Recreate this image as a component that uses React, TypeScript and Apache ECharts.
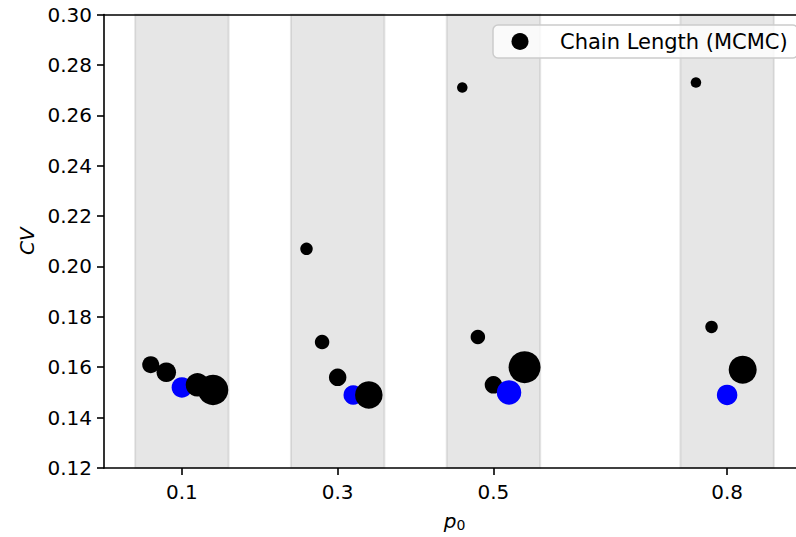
import React, { useEffect, useRef } from "react";
import * as echarts from "echarts";

// p0 values with a shaded band around each
const p0Ticks = [0.1, 0.3, 0.5, 0.8];

// CV of each chain length setting, dodged around its p0
const xP01 = [0.06, 0.08, 0.1, 0.12, 0.14];
const cvP01 = [0.161, 0.158, 0.152, 0.153, 0.151];
const dotP01 = [17, 19.5, 20.5, 23.5, 30.5];

const xP03 = [0.26, 0.28, 0.3, 0.32, 0.34];
const cvP03 = [0.207, 0.17, 0.156, 0.149, 0.149];
const dotP03 = [12.5, 14.5, 17.5, 19.5, 27.5];

const xP05 = [0.46, 0.48, 0.5, 0.52, 0.54];
const cvP05 = [0.271, 0.172, 0.153, 0.15, 0.16];
const dotP05 = [10.5, 14.5, 17.5, 24.5, 32];

const xP08 = [0.76, 0.78, 0.8, 0.82];
const cvP08 = [0.273, 0.176, 0.149, 0.159];
const dotP08 = [10.5, 12.5, 20.5, 28];

// index of the chosen chain length in each group (drawn blue)
const chosenIndex = [2, 3, 3, 2];

const FONT = "DejaVu Sans";
const BAND_HALF = 0.06;

export default function App() {
  const ref = useRef<HTMLDivElement>(null);

  useEffect(() => {
    if (!ref.current) return;
    const chart = echarts.init(ref.current, undefined, { renderer: "svg" });

    const groups = [
      { x: xP01, cv: cvP01, dot: dotP01 },
      { x: xP03, cv: cvP03, dot: dotP03 },
      { x: xP05, cv: cvP05, dot: dotP05 },
      { x: xP08, cv: cvP08, dot: dotP08 },
    ];
    const points: any[] = [];
    groups.forEach((g, gi) => {
      g.x.forEach((xv, i) => {
        points.push({
          value: [xv, g.cv[i], g.dot[i]],
          itemStyle: i === chosenIndex[gi] ? { color: "#0000ff" } : undefined,
        });
      });
    });

    const bands = p0Ticks.map((p) => [
      { xAxis: p - BAND_HALF },
      { xAxis: p + BAND_HALF },
    ]);

    const axisLine = { show: true, lineStyle: { color: "#000", width: 1.6 } };

    chart.setOption({
      animation: false,
      backgroundColor: "#ffffff",
      textStyle: { fontFamily: FONT },
      // the plot area runs a little past the visible right edge
      grid: { left: 104, right: 0, top: 14.5, bottom: 68, containLabel: false },
      legend: {
        data: ["Chain Length (MCMC)"],
        left: 493,
        top: 25,
        orient: "vertical",
        icon: "circle",
        itemWidth: 17,
        itemHeight: 17,
        padding: [6, 10, 6, 18.5],
        backgroundColor: "rgba(255,255,255,0.8)",
        borderColor: "#cccccc",
        borderWidth: 1.5,
        borderRadius: 5,
        formatter: (name: string) => `{t|${name}}`,
        textStyle: {
          rich: {
            t: {
              fontFamily: FONT,
              fontSize: 21,
              color: "#000",
              lineHeight: 24,
              padding: [0, 0, 0, 26.5],
            },
          },
        },
      },
      xAxis: [
        {
          type: "value",
          min: 0,
          max: 0.9,
          z: 5,
          name: "{i|p}{s|0}",
          nameLocation: "middle",
          nameGap: 42,
          nameTextStyle: {
            rich: {
              i: { fontFamily: FONT, fontStyle: "italic", fontSize: 20, color: "#000" },
              s: {
                fontFamily: FONT,
                fontSize: 14,
                color: "#000",
                padding: [8, 0, 0, 0],
              },
            },
          },
          axisLine,
          axisTick: {
            show: true,
            length: 7,
            lineStyle: { color: "#000", width: 1.6 },
            customValues: p0Ticks,
          },
          axisLabel: {
            customValues: p0Ticks,
            margin: 14,
            fontSize: 20,
            color: "#000",
            fontFamily: FONT,
            formatter: (v: number) => String(v),
          },
          splitLine: { show: false },
        },
        {
          type: "value",
          position: "top",
          min: 0,
          max: 0.9,
          z: 5,
          axisLine,
          axisTick: { show: false },
          axisLabel: { show: false },
          splitLine: { show: false },
        },
      ],
      yAxis: {
        type: "value",
        min: 0.12,
        max: 0.3,
        interval: 0.02,
        z: 5,
        name: "CV",
        nameLocation: "middle",
        nameGap: 65,
        nameTextStyle: {
          fontFamily: FONT,
          fontStyle: "italic",
          fontSize: 20,
          color: "#000",
        },
        axisLine,
        axisTick: { show: true, length: 7, lineStyle: { color: "#000", width: 1.6 } },
        axisLabel: {
          margin: 12,
          fontSize: 20,
          color: "#000",
          fontFamily: FONT,
          formatter: (v: number) => v.toFixed(2),
        },
        splitLine: { show: false },
      },
      series: [
        {
          name: "p0 bands",
          type: "scatter",
          data: [],
          z: 1,
          silent: true,
          markArea: {
            silent: true,
            itemStyle: {
              color: "rgba(128,128,128,0.2)",
              borderColor: "rgba(128,128,128,0.2)",
              borderWidth: 2,
            },
            data: bands,
          },
        },
        {
          name: "Chain Length (MCMC)",
          type: "scatter",
          z: 3,
          symbol: "circle",
          symbolSize: (val: number[]) => val[2],
          itemStyle: { color: "#000000", opacity: 1 },
          data: points,
        },
      ],
    });

    return () => chart.dispose();
  }, []);

  return (
    <div
      style={{
        position: "absolute",
        left: 0,
        top: 0,
        width: 796,
        height: 537,
        overflow: "hidden",
      }}
    >
      <div ref={ref} style={{ width: 804.5, height: 537 }} />
    </div>
  );
}
